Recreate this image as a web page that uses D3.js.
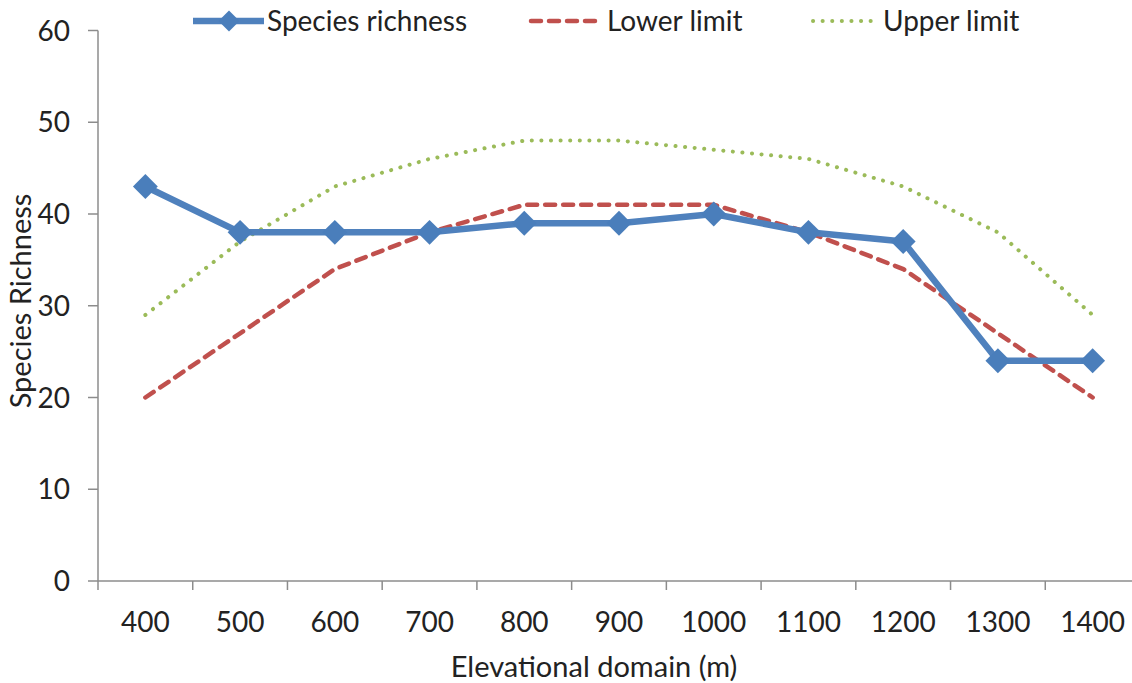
<!DOCTYPE html>
<html>
<head>
<meta charset="utf-8">
<script src="https://cdn.jsdelivr.net/npm/d3@7"></script>
<style>
  html, body { margin: 0; padding: 0; background: #fff; }
  svg { display: block; font-family: Lato, "Open Sans", sans-serif; }
</style>
</head>
<body>
<svg id="chart" width="1132" height="683"></svg>
<script>
// Elevation bands (m)
const elevations = ["400", "500", "600", "700", "800", "900", "1000", "1100", "1200", "1300", "1400"];
// Observed species richness per band
const richness = [43, 38, 38, 38, 39, 39, 40, 38, 37, 24, 24];
// Null-model confidence limits
const lowerLimit = [20, 27, 34, 38, 41, 41, 41, 38, 34, 27, 20];
const upperLimit = [29, 37, 43, 46, 48, 48, 47, 46, 43, 38, 29];
// Y-axis ticks
const yTicks = [0, 10, 20, 30, 40, 50, 60];

const svg = d3.select("#chart");
const axisColor = "#8c8c8c";
const textColor = "#222";
const fs = 28;

const x = d3.scaleBand().domain(elevations).range([98, 1140]);
const y = d3.scaleLinear().domain([0, 60]).range([581, 30.5]);
const cx = d => x(d) + x.bandwidth() / 2;

// X axis
const xAxis = svg.append("g").attr("transform", `translate(0,${y(0)})`);
xAxis.append("line").attr("x1", 98).attr("x2", 1132)
  .attr("stroke", axisColor).attr("stroke-width", 1.5);
xAxis.selectAll("line.tick").data(d3.range(elevations.length + 1)).join("line")
  .attr("class", "tick")
  .attr("x1", i => 98 + i * x.step()).attr("x2", i => 98 + i * x.step())
  .attr("y1", 0).attr("y2", 9).attr("stroke", axisColor).attr("stroke-width", 1.5);
xAxis.selectAll("text").data(elevations).join("text")
  .attr("x", d => cx(d)).attr("y", 51)
  .attr("text-anchor", "middle").attr("font-size", fs).attr("fill", textColor)
  .text(d => d);

// Y axis
const yAxis = svg.append("g");
yAxis.append("line").attr("x1", 98).attr("x2", 98).attr("y1", y(60)).attr("y2", y(0))
  .attr("stroke", axisColor).attr("stroke-width", 1.5);
yAxis.selectAll("line.tick").data(yTicks).join("line")
  .attr("class", "tick")
  .attr("x1", 88).attr("x2", 98).attr("y1", d => y(d)).attr("y2", d => y(d))
  .attr("stroke", axisColor).attr("stroke-width", 1.5);
yAxis.selectAll("text").data(yTicks).join("text")
  .attr("x", 70).attr("y", d => y(d)).attr("dy", "0.36em")
  .attr("text-anchor", "end").attr("font-size", fs).attr("fill", textColor)
  .text(d => d);

// Axis titles
svg.append("text").attr("x", 594).attr("y", 677)
  .attr("text-anchor", "middle").attr("font-size", 29).attr("fill", textColor)
  .text("Elevational domain (m)");
svg.append("text")
  .attr("transform", "translate(31,301) rotate(-90)")
  .attr("text-anchor", "middle").attr("font-size", 29).attr("fill", textColor)
  .text("Species Richness");

const line = d3.line().x((d, i) => cx(elevations[i])).y(d => y(d));

// Upper limit (dotted green)
svg.append("path").datum(upperLimit).attr("d", line)
  .attr("fill", "none").attr("stroke", "#9bbb59").attr("stroke-width", 4)
  .attr("stroke-linecap", "round").attr("stroke-dasharray", "0.1 9.5");

// Lower limit (dashed red)
svg.append("path").datum(lowerLimit).attr("d", line)
  .attr("fill", "none").attr("stroke", "#c0504d").attr("stroke-width", 4.5)
  .attr("stroke-linecap", "round").attr("stroke-dasharray", "10 8");

// Species richness (solid blue with diamonds)
svg.append("path").datum(richness).attr("d", line)
  .attr("fill", "none").attr("stroke", "#4f81bd").attr("stroke-width", 6.5)
  .attr("stroke-linejoin", "round");
svg.selectAll("path.marker").data(richness).join("path")
  .attr("class", "marker")
  .attr("transform", (d, i) => `translate(${cx(elevations[i])},${y(d)}) rotate(45)`)
  .attr("d", d3.symbol().type(d3.symbolSquare).size(310))
  .attr("fill", "#4a7ebb");

// Legend
const legend = svg.append("g");
const ly = 21;
legend.append("line").attr("x1", 193).attr("x2", 264).attr("y1", ly).attr("y2", ly)
  .attr("stroke", "#4f81bd").attr("stroke-width", 6.5);
legend.append("path").attr("transform", `translate(229,${ly}) rotate(45)`)
  .attr("d", d3.symbol().type(d3.symbolSquare).size(220)).attr("fill", "#4a7ebb");
legend.append("text").attr("x", 267).attr("y", ly).attr("dy", "0.36em")
  .attr("font-size", fs).attr("fill", textColor).text("Species richness");

legend.append("line").attr("x1", 531).attr("x2", 603).attr("y1", ly).attr("y2", ly)
  .attr("stroke", "#c0504d").attr("stroke-width", 4.5)
  .attr("stroke-linecap", "round").attr("stroke-dasharray", "10 8");
legend.append("text").attr("x", 607).attr("y", ly).attr("dy", "0.36em")
  .attr("font-size", fs).attr("fill", textColor).text("Lower limit");

legend.append("line").attr("x1", 813).attr("x2", 872).attr("y1", ly).attr("y2", ly)
  .attr("stroke", "#9bbb59").attr("stroke-width", 4)
  .attr("stroke-linecap", "round").attr("stroke-dasharray", "0.1 9.5");
legend.append("text").attr("x", 883).attr("y", ly).attr("dy", "0.36em")
  .attr("font-size", fs).attr("fill", textColor).text("Upper limit");
</script>
</body>
</html>
